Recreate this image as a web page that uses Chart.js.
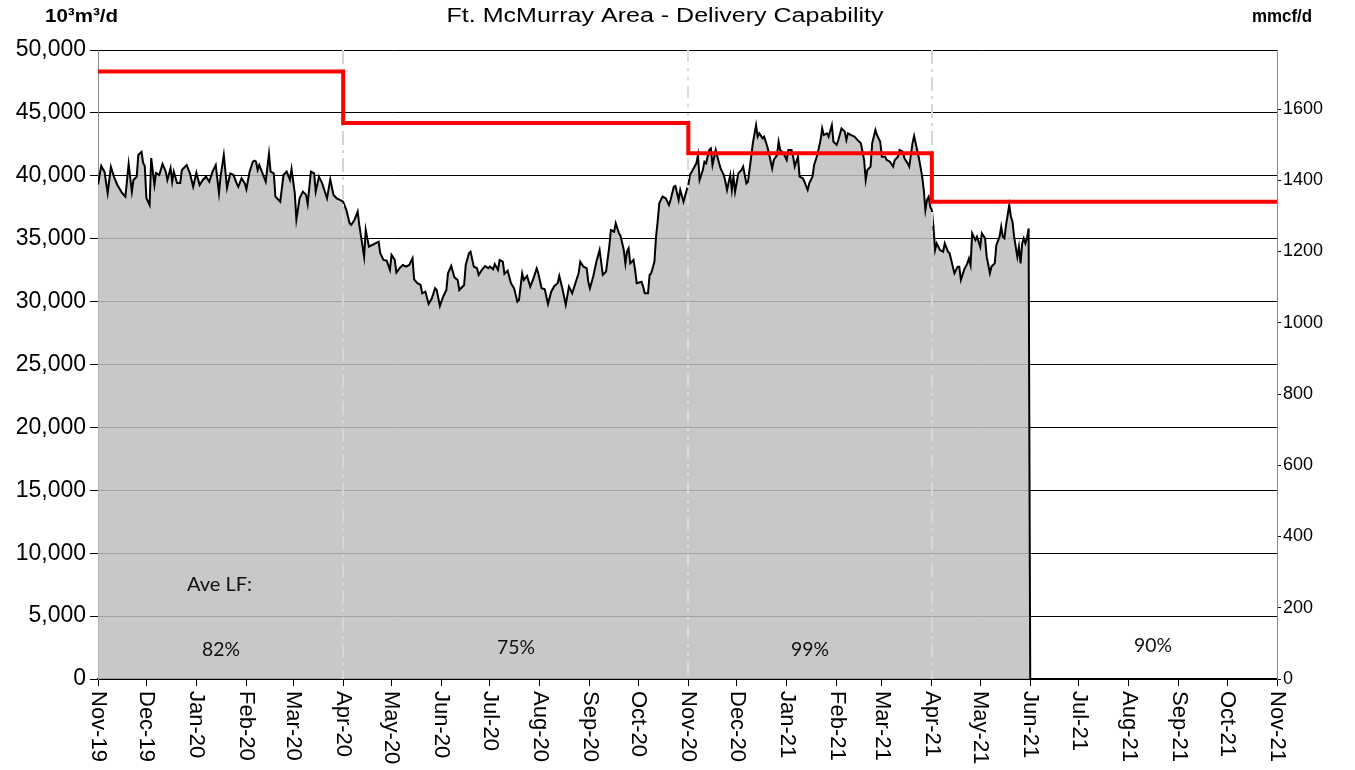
<!DOCTYPE html>
<html><head><meta charset="utf-8">
<script src="https://cdn.jsdelivr.net/npm/chart.js@4.4.1/dist/chart.umd.min.js"></script>
<style>html,body{margin:0;padding:0;background:#fff;}#wrap{width:1355px;height:770px;}</style>
</head><body><div id="wrap"><canvas id="c" width="1355" height="770"></canvas></div>
<script>
// ---- categories / tick labels (x = days since 1 Nov 2019) ----
const monthDays = [0,30,61,92,121,152,182,213,243,274,305,335,366,396,427,458,486,517,547,578,608,639,670,700,731];
const monthLabels = ['Nov-19','Dec-19','Jan-20','Feb-20','Mar-20','Apr-20','May-20','Jun-20','Jul-20','Aug-20','Sep-20','Oct-20',
  'Nov-20','Dec-20','Jan-21','Feb-21','Mar-21','Apr-21','May-21','Jun-21','Jul-21','Aug-21','Sep-21','Oct-21','Nov-21'];
const rightTicks = [0,200,400,600,800,1000,1200,1400,1600];

// ---- delivery (10^3 m3/d) ----
const flowDays = [
  0,2,4,6,8,10,12,15,17,19,21,22,24,25,27,28,29,
  30,32,33,35,36,38,40,42,43,45,46,47,49,51,52,55,57,59,
  61,63,65,67,69,71,73,75,76,78,80,82,84,86,87,89,91,
  92,94,96,97,98,99,100,102,104,106,107,109,110,113,115,117,119,120,
  122,123,125,127,129,130,132,134,135,137,139,141,142,144,146,148,150,
  152,154,156,157,159,161,162,165,166,168,170,172,174,175,177,179,181,
  182,184,185,187,189,191,193,195,196,198,200,201,203,205,207,209,210,212,
  214,216,217,219,221,223,224,227,228,230,231,233,235,236,238,240,242,
  243,245,246,248,249,251,252,254,256,258,260,261,263,264,266,268,270,272,273,
  275,277,279,281,283,285,286,288,290,292,294,296,298,299,301,303,304,
  305,307,309,311,313,315,317,318,320,321,323,324,326,327,328,329,330,332,333,334,
  337,338,339,341,342,343,345,346,347,348,350,352,354,355,357,358,360,361,363,365,
  366,367,369,371,372,373,375,376,377,379,380,381,383,384,386,388,389,390,392,393,394,395,
  397,399,400,402,403,405,406,408,409,410,412,413,415,416,418,419,421,422,423,425,
  427,428,430,431,432,434,435,437,438,440,441,443,444,446,448,449,450,452,453,455,456,
  458,459,461,463,464,465,467,469,471,473,475,476,477,479,480,482,483,485,
  486,488,489,491,493,494,496,497,499,500,502,503,505,506,507,509,511,512,513,514,515,516,
  517,518,519,520,522,524,525,527,528,530,531,533,534,535,537,539,540,541,542,544,545,
  547,548,550,551,553,554,556,557,559,560,561,562,563,565,566,567,568,570,571,572,573,574,575,576,577,
  578,731
];
const flowValues = [
  39300,40780,40330,38630,40700,39900,39270,38630,38340,40940,38740,39670,39930,41650,41910,41020,40780,
  38230,37680,41410,39270,40220,40060,40940,40330,39670,40620,39530,40330,39430,39430,40460,40860,40190,39130,
  40250,39270,39670,39930,39530,40330,40860,38630,39930,41650,39030,40190,40060,39400,39130,39800,39400,
  38930,40330,41120,41200,41120,40460,40860,40190,39530,41730,40330,40190,38340,37940,40060,40330,39670,40540,
  38630,36540,38210,38740,38480,37760,40330,40190,38740,39930,39400,38610,38210,39720,38470,38210,38080,
  37940,37280,36230,36090,36490,37150,36090,33570,35690,34360,34500,34630,34760,33840,33310,33250,32520,
  33710,33310,32300,32650,32910,32780,32910,33440,31770,31460,31320,30660,30790,29810,30260,31060,30920,29650,
  30390,30920,32250,32830,31930,31720,30920,31320,32910,33840,33970,32780,32650,32120,32520,32830,32650,
  32780,32570,32990,32520,33310,33170,32200,32460,31480,31060,29990,30130,32250,31720,32040,31190,31850,32640,32250,
  31060,30980,29810,30790,31240,31460,32040,31000,29750,31190,30660,31460,32250,33170,32780,32650,31580,
  31060,31980,33170,34100,32120,32380,34360,35690,35560,36230,35430,35220,34100,33040,33970,34240,33040,33310,32520,31460,
  31580,31190,30660,30660,32120,32250,33170,35160,36360,37810,38340,38210,37680,38080,39130,39190,38080,38870,37940,38870,
  39270,40060,40520,40990,41650,39670,40460,41120,40990,42050,42180,40860,42050,41520,40590,40060,39530,38870,40060,38870,39930,38740,
  40190,40460,40730,39400,39530,41520,42580,44030,43110,43380,42980,43110,42310,41790,40590,41260,41650,42710,42050,41790,
  41260,42050,42050,41520,40730,41520,39930,39800,39530,38870,39400,39930,40860,41650,42840,43770,43240,43380,43110,44030,42710,
  42450,42840,43770,43510,42840,43380,43240,43110,42840,42580,41260,39670,40460,40730,42580,43640,43240,42710,
  41520,41520,41260,41120,40730,41260,41520,42050,41910,41390,40990,40730,42580,43170,42580,41390,39930,38870,37280,38080,38340,37550,
  37280,35950,34100,34630,34100,33970,34630,33970,33840,32780,32250,32780,32780,31720,32520,33040,33440,32910,35430,34890,35160,
  34360,35430,35030,33570,32250,32780,33040,34500,35160,35950,35160,35030,36090,37680,36750,36360,35160,33570,34360,33040,34630,35030,34630,35030,35820,
  0,0
];

// ---- capability (10^3 m3/d), step changes ----
const capDays = [0,152,366,517,731];
const capValues = [48300,44200,41790,37940,37940];

// ---- period load factors ----
const lfLabels = ['82%','75%','99%','90%'];

const M3_TO_MMCF = 0.0353147;
const FONT = '"Liberation Sans", Arial, sans-serif';
const NOTE_FONT = 'Lato, "Open Sans", sans-serif';

function fitText(ctx, s, x, y, font, width, align) {
  ctx.save();
  ctx.font = font;
  const w = ctx.measureText(s).width;
  const sx = width ? width / w : 1;
  ctx.translate(x, y);
  ctx.scale(sx, 1);
  ctx.textAlign = align || 'center';
  ctx.textBaseline = 'middle';
  ctx.fillText(s, 0, 0);
  ctx.restore();
}

const decor = {
  id: 'decor',
  afterDatasetDraw(chart, args) {
    if (args.index !== 1) return;
    const {ctx, chartArea} = chart;
    const xs = chart.scales.x;
    const lines = [
      {d: 152, dash: [14,5,3,5], c: '#d6d6d6'},
      {d: 366, dash: [12,6,3,6,3,6], c: '#dcdcdc'},
      {d: 517, dash: [14,5,3,5], c: '#d6d6d6'}
    ];
    ctx.save();
    ctx.lineWidth = 2;
    lines.forEach(l => {
      const x = Math.round(xs.getPixelForValue(l.d));
      ctx.strokeStyle = l.c;
      ctx.setLineDash(l.dash);
      ctx.beginPath();
      ctx.moveTo(x, chartArea.top);
      ctx.lineTo(x, chartArea.bottom);
      ctx.stroke();
    });
    ctx.restore();
  },
  afterDraw(chart) {
    const {ctx, chartArea} = chart;
    const xs = chart.scales.x;
    ctx.save();
    ctx.fillStyle = '#000';
    // rotated month labels, reading top to bottom
    ctx.font = '22px ' + FONT;
    monthDays.forEach((d, i) => {
      const x = xs.getPixelForValue(d);
      ctx.save();
      ctx.translate(x, chartArea.bottom + 12);
      ctx.rotate(Math.PI / 2);
      ctx.textAlign = 'left';
      ctx.textBaseline = 'middle';
      ctx.fillText(monthLabels[i], 0, 0);
      ctx.restore();
    });
    // title and unit labels
    fitText(ctx, 'Ft. McMurray Area - Delivery Capability', 665, 16, '20px ' + FONT, 437);
    fitText(ctx, '10³m³/d', 45, 17, 'bold 19px ' + FONT, 73, 'left');
    fitText(ctx, 'mmcf/d', 1252, 17, 'bold 18px ' + FONT, 60, 'left');
    // load factor notes
    ctx.fillStyle = '#111';
    fitText(ctx, 'Ave LF:', 187, 585, '19px ' + NOTE_FONT, 65, 'left');
    const lfX = [221, 516, 810, 1153];
    const lfY = [650, 648, 650, 646];
    lfLabels.forEach((s, i) => fitText(ctx, s, lfX[i], lfY[i], '19px ' + NOTE_FONT, 38));
    ctx.restore();
  }
};

new Chart(document.getElementById('c').getContext('2d'), {
  type: 'line',
  data: {
    datasets: [
      {
        label: 'Capability',
        data: capDays.map((d, i) => ({x: d, y: capValues[i]})),
        borderColor: '#ff0000', borderWidth: 4, stepped: 'before',
        pointRadius: 0, fill: false, yAxisID: 'y'
      },
      {
        label: 'Delivery',
        data: flowDays.map((d, i) => ({x: d, y: flowValues[i]})),
        borderColor: '#000', borderWidth: 2, tension: 0,
        backgroundColor: 'rgba(190,190,190,0.85)', fill: 'origin',
        pointRadius: 0, yAxisID: 'y'
      }
    ]
  },
  options: {
    responsive: false, animation: false,
    layout: {padding: {top: 50, left: 0, right: 0, bottom: 0}},
    plugins: {legend: {display: false}, tooltip: {enabled: false}, title: {display: false}},
    scales: {
      x: {
        type: 'linear', min: 0, max: 731,
        afterBuildTicks: s => { s.ticks = monthDays.map(v => ({value: v})); },
        ticks: {display: false},
        grid: {drawOnChartArea: false, drawTicks: true, tickLength: 7, color: '#000'},
        border: {color: '#000', width: 2},
        afterFit: s => { s.height = 91; }
      },
      y: {
        position: 'left', min: 0, max: 50000,
        ticks: {stepSize: 5000, font: {family: FONT, size: 23}, color: '#000', padding: 4,
          callback: v => Number(v).toLocaleString('en-US')},
        grid: {color: '#000', lineWidth: 1, tickLength: 8, tickColor: '#000'},
        border: {color: '#8a8a8a', width: 1},
        afterFit: s => { s.width = 98; }
      },
      y1: {
        position: 'right', min: 0, max: 50000 * M3_TO_MMCF,
        afterBuildTicks: s => { s.ticks = rightTicks.map(v => ({value: v})); },
        ticks: {font: {family: FONT, size: 18}, color: '#000', padding: 2,
          callback: v => String(v)},
        grid: {drawOnChartArea: false, tickLength: 4, color: '#000'},
        border: {color: '#8a8a8a', width: 1},
        afterFit: s => { s.width = 78; }
      }
    }
  },
  plugins: [decor]
});
</script></body></html>
